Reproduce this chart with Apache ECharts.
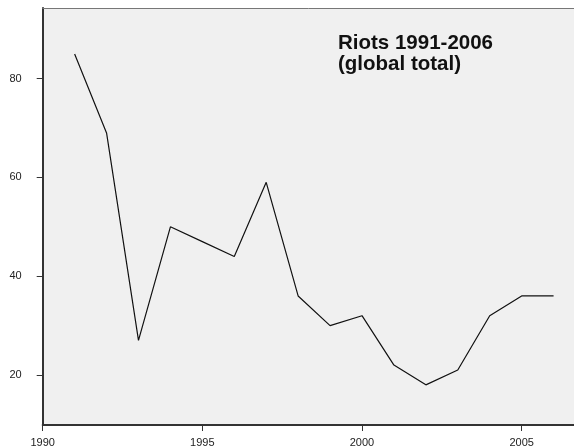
<!DOCTYPE html>
<html>
<head>
<meta charset="utf-8">
<script src="https://cdn.jsdelivr.net/npm/echarts@6/dist/echarts.min.js"></script>
<style>
  html, body { margin: 0; padding: 0; background: #fff; }
  #main { width: 574px; height: 448px; }
</style>
</head>
<body>
<div id="main"></div>
<script>
var years = [1991, 1992, 1993, 1994, 1995, 1996, 1997, 1998, 1999, 2000, 2001, 2002, 2003, 2004, 2005, 2006];
var riots = [85, 69, 27, 50, 47, 44, 59, 36, 30, 32, 22, 18, 21, 32, 36, 36];
var xTicks = [1990, 1995, 2000, 2005];
var yTicks = [20, 40, 60, 80];
var titleText = 'Riots 1991-2006\n(global total)';

var myChart = echarts.init(document.getElementById('main'));

var points = [];
for (let i = 0; i < years.length; i++) {
    points.push([years[i], riots[i]]);
}

var option = {
    animation: false,
    backgroundColor: '#ffffff',
    title: {
        text: titleText,
        left: 333,
        top: 28,
        textStyle: {
            fontFamily: 'Liberation Sans',
            fontWeight: 'bold',
            fontSize: 20.5,
            lineHeight: 21,
            color: '#111'
        }
    },
    grid: {
        left: 42.7,
        right: 0,
        top: 8,
        bottom: 23,
        show: true,
        backgroundColor: '#f0f0f0',
        borderWidth: 0
    },
    xAxis: [{
        type: 'value',
        min: 1990,
        max: 2006.64,
        splitLine: { show: false },
        axisLine: { lineStyle: { color: '#333', width: 2 } },
        axisTick: { customValues: xTicks, length: 6, lineStyle: { color: '#333' } },
        axisLabel: {
            customValues: xTicks,
            formatter: function (v) { return String(v); },
            margin: 12,
            fontFamily: 'Liberation Sans',
            fontSize: 11,
            color: '#222'
        }
    }, {
        // top frame line only
        type: 'value',
        position: 'top',
        min: 1990,
        max: 2006.64,
        splitLine: { show: false },
        axisLine: { show: true, lineStyle: { color: '#777', width: 1 } },
        axisTick: { show: false },
        axisLabel: { show: false }
    }],
    yAxis: {
        type: 'value',
        min: 9.87,
        max: 94.3,
        splitLine: { show: false },
        axisLine: { show: true, lineStyle: { color: '#333', width: 2 } },
        axisTick: { show: true, customValues: yTicks, length: 6, lineStyle: { color: '#333' } },
        axisLabel: {
            customValues: yTicks,
            margin: 21,
            fontFamily: 'Liberation Sans',
            fontSize: 11,
            color: '#222'
        }
    },
    series: [{
        type: 'line',
        xAxisIndex: 0,
        data: points,
        showSymbol: false,
        lineStyle: { color: '#111', width: 1.2 }
    }]
};

myChart.setOption(option);
</script>
</body>
</html>
